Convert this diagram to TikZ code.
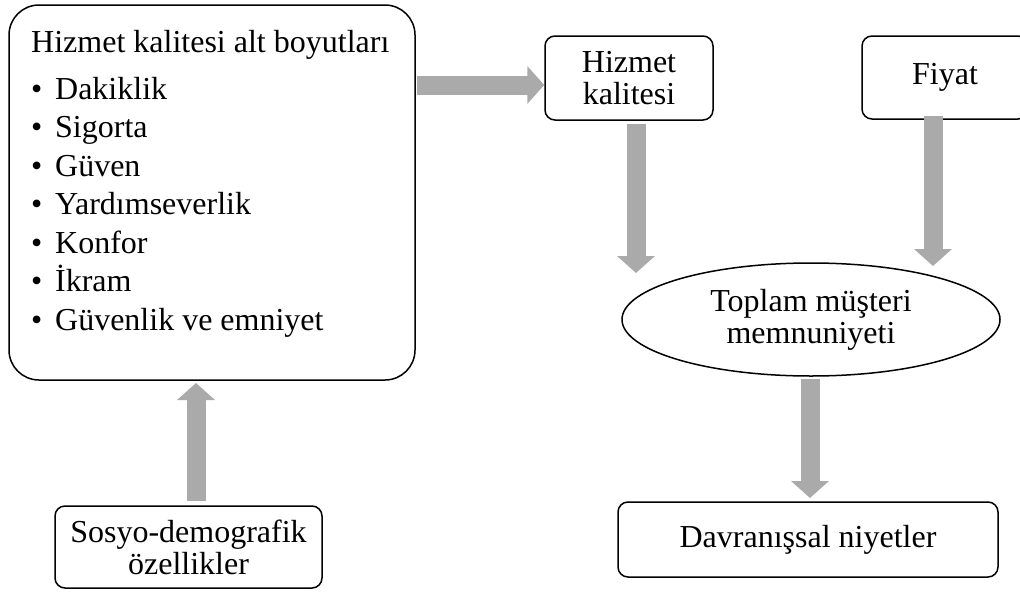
\documentclass[tikz,border=0pt]{standalone}
\usepackage{fontspec}
\setmainfont{Liberation Serif}
\newfontfamily\tnr{Liberation Serif}
\usetikzlibrary{arrows.meta,shapes.geometric}
\definecolor{arrowgray}{RGB}{170,170,170}
\begin{document}
\begin{tikzpicture}[x=1pt,y=-1pt,
 box/.style={draw, line width=1.5pt, rounded corners=10pt, inner sep=0pt},
 txt/.style={font=\tnr\fontsize{32}{32}\selectfont, inner sep=0pt},
 blk/.style={draw=arrowgray, line width=19pt, -{Triangle[width=37pt,length=17pt]}}]
\useasboundingbox (0,0) rectangle (1020,592);
\clip (0,0) rectangle (1020,592);
% main box
\node[box, rounded corners=30pt, minimum width=406pt, minimum height=375pt] (main) at (212,192.5) {};
\node[txt, anchor=base west] (title) at (31,52) {Hizmet kalitesi alt boyutları};
\node[txt, anchor=base west] (i1) at (31,99) {\makebox[24pt][l]{\textbullet}Dakiklik};
\node[txt, anchor=base west] (i2) at (31,137.5) {\makebox[24pt][l]{\textbullet}Sigorta};
\node[txt, anchor=base west] (i3) at (31,176) {\makebox[24pt][l]{\textbullet}Güven};
\node[txt, anchor=base west] (i4) at (31,214.5) {\makebox[24pt][l]{\textbullet}Yardımseverlik};
\node[txt, anchor=base west] (i5) at (31,253) {\makebox[24pt][l]{\textbullet}Konfor};
\node[txt, anchor=base west] (i6) at (31,291.5) {\makebox[24pt][l]{\textbullet}İkram};
\node[txt, anchor=base west] (i7) at (31,330) {\makebox[24pt][l]{\textbullet}Güvenlik ve emniyet};
% other nodes
\node[box, txt, align=center, minimum width=168pt, minimum height=84pt] (hk) at (629,78) {Hizmet\\kalitesi};
\node[box, txt, minimum width=166pt, minimum height=83pt] (fiyat) at (945,77.5) {Fiyat};
\node[draw, ellipse, line width=1.5pt, txt, align=center, minimum width=378pt, minimum height=113pt] (tms) at (811,319.5) {Toplam müşteri\\memnuniyeti};
\node[box, txt, minimum width=380pt, minimum height=75pt] (dn) at (808,539.5) {Davranışsal niyetler};
\node[box, txt, align=center, minimum width=267pt, minimum height=82pt] (sd) at (188.5,547) {Sosyo-demografik\\özellikler};
% arrows
\coordinate (r) at (0,85);
\coordinate (t1) at (636,273);
\coordinate (t2) at (933,266);
\coordinate (t3) at (810,498);
\coordinate (t4) at (196,383);
\draw[blk] ([xshift=1pt]main.east |- r) -- (hk.west |- r);
\draw[blk] ([yshift=-3pt]hk.south -| t1) -- (t1);
\draw[blk] ([yshift=4pt]fiyat.south -| t2) -- (t2);
\draw[blk] ([yshift=-2pt]tms.south -| t3) -- (t3);
\draw[blk] ([yshift=4pt]sd.north -| t4) -- (t4);
\end{tikzpicture}
\end{document}
